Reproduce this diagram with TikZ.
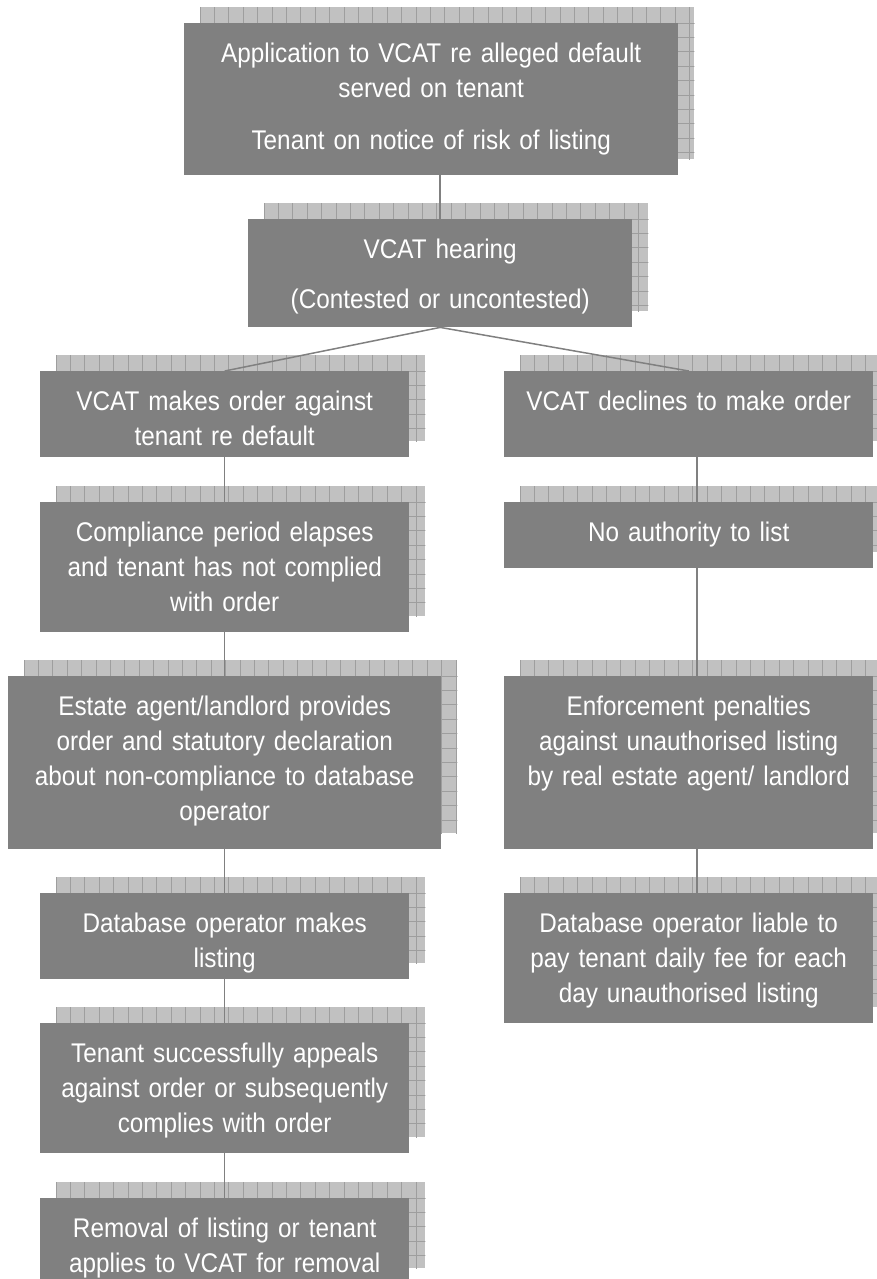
\documentclass[tikz,border=0pt]{standalone}
\usepackage{fontspec}
\setmainfont{Liberation Sans}[FakeStretch=0.9]
\usepackage{tikz}
\usetikzlibrary{backgrounds}
\definecolor{VcatBoxColor}{RGB}{128,128,128}
\definecolor{VcatShadowColor}{RGB}{193,193,193}
\definecolor{VcatGridColor}{RGB}{158,158,158}
\definecolor{VcatLinkColor}{RGB}{128,128,128}

\begin{document}
\begin{tikzpicture}[x=1pt,y=-1pt,
  box/.style 2 args={fill=VcatBoxColor,text=white,inner sep=0pt,align=center,
    font=\fontsize{27}{35}\selectfont,text width=#1,text height=39,text depth=#2-39,
    anchor=north west},
  link/.style={draw=VcatLinkColor,line width=1.5pt},
  gridline/.style={draw=VcatGridColor,line width=0.8pt}]
\useasboundingbox (0,0) rectangle (877,1279);
% main column
\node[box={494}{152}](app) at(184,23) {Application to VCAT re alleged default\\
   served on tenant\\[17pt]Tenant on notice of risk of listing};
\node[box={384}{108}](hear) at(248,219) {VCAT hearing\\[15pt](Contested or uncontested)};
% left branch
\node[box={369}{86}](order) at(40,371) {VCAT makes order against\\tenant re default};
\node[box={369}{130}](comply) at(40,502) {Compliance period elapses\\
   and tenant has not complied\\with order};
\node[box={433}{173}](estate) at(8,676) {Estate agent/landlord provides\\
   order and statutory declaration\\about non-compliance to database\\operator};
\node[box={369}{86}](listing) at(40,893) {Database operator makes\\listing};
\node[box={369}{130}](appeal) at(40,1023) {Tenant successfully appeals\\
   against order or subsequently\\complies with order};
\node[box={369}{86}](removal) at(40,1198) {Removal of listing or tenant\\
   applies to VCAT for removal};
% right branch
\node[box={369}{86}](decline) at(504,371) {VCAT declines to make order};
\node[box={369}{66}](noauth) at(504,502) {No authority to list};
\node[box={369}{173}](enforce) at(504,676) {Enforcement penalties\\
   against unauthorised listing\\by real estate agent/ landlord};
\node[box={369}{130}](liable) at(504,893) {Database operator liable to\\
   pay tenant daily fee for each\\day unauthorised listing};
% gridded shadows behind the boxes
\begin{scope}[on background layer]
\foreach \n in %
{app,hear,order,comply,estate,listing,appeal,removal,decline,noauth,enforce,liable} {
   \fill[VcatShadowColor] ([shift={(16,-16)}]\n.north west) rectangle ([shift={(16,-16)}]\n.south east);
   \begin{scope}
   \clip ([shift={(16,-16)}]\n.north west) rectangle ([shift={(16,-16)}]\n.south east);
   \begin{scope}[shift={([xshift=16pt]\n.north west)}]
      \draw[gridline,xstep=14.4pt,ystep=400pt] (0,-16) grid (600,0);
      \draw[gridline,step=14.4pt] (0,0) grid (600,300);
   \end{scope}
   \end{scope}
}
\end{scope}
% connectors
\draw[link] (hear.north |- app.south) -- (hear.north);
\draw[link] (hear.south) -- (order.north);
\draw[link] (hear.south) -- (decline.north);
\foreach \a/\b in %
{order/comply,comply/estate,estate/listing,listing/appeal,appeal/removal} {
   \draw[link] (\a.south) -- (\b.north);
}
\foreach \a/\b in %
{decline/noauth,noauth/enforce,enforce/liable} {
   \draw[link] ([xshift=8.5pt]\a.south) -- ([xshift=8.5pt]\b.north);
}
\end{tikzpicture}
\end{document}
